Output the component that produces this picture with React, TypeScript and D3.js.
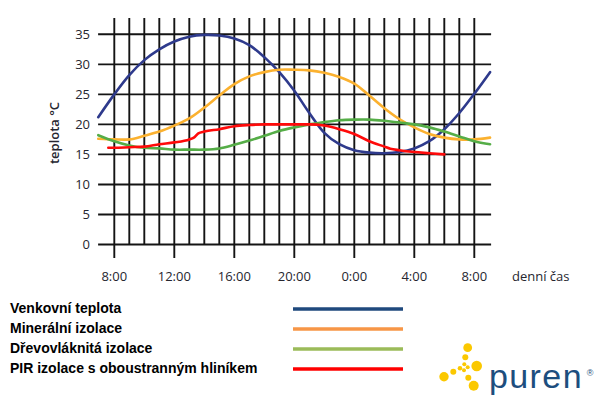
import React from 'react';
import * as d3 from 'd3';

// hours run from 7:00 to 9:00 next day (24 = 0:00, 28 = 4:00 ...)
const hours = [6.93, 8, 9, 10, 11, 12, 13, 14, 15, 16, 17, 18, 19, 20, 21, 22, 23, 24, 25, 26, 27, 28, 29, 30, 31, 32, 33.05];

const venkovni = [21.2, 25.0, 28.2, 30.7, 32.5, 33.8, 34.6, 34.9, 34.8, 34.3, 33.2, 31.2, 28.7, 25.6, 21.9, 18.6, 16.7, 15.7, 15.3, 15.2, 15.4, 16.0, 17.2, 19.2, 21.9, 25.1, 28.7];
const mineralni = [17.6, 17.5, 17.5, 18.1, 18.8, 19.8, 21.0, 22.8, 24.8, 26.7, 28.0, 28.7, 29.1, 29.1, 29.0, 28.6, 27.9, 26.8, 24.8, 22.7, 20.9, 19.5, 18.4, 17.8, 17.5, 17.5, 17.8];
const drevovlaknita = [18.2, 17.2, 16.5, 16.1, 16.0, 15.8, 15.8, 15.8, 16.0, 16.6, 17.3, 18.1, 18.9, 19.5, 20.0, 20.4, 20.7, 20.8, 20.8, 20.6, 20.3, 20.0, 19.5, 18.8, 18.0, 17.2, 16.7];

const pirHours = [7.6, 8, 9, 10, 11, 12, 13, 13.3, 13.6, 14, 15, 16, 17, 18, 19, 20, 21, 22, 23, 24, 25, 26, 26.4, 27, 28, 29, 30];
const pir = [16.1, 16.1, 16.2, 16.3, 16.7, 17.0, 17.5, 17.8, 18.5, 18.8, 19.2, 19.7, 19.9, 20.0, 20.0, 20.0, 20.0, 19.8, 19.2, 18.4, 17.2, 16.3, 15.95, 15.7, 15.4, 15.2, 15.0];

const yTicks = [0, 5, 10, 15, 20, 25, 30, 35];
const gridHours = d3.range(8, 33);
const labelHours = [8, 12, 16, 20, 24, 28, 32];
const labelTexts = ['8:00', '12:00', '16:00', '20:00', '0:00', '4:00', '8:00'];

const legendNames = ['Venkovní teplota', 'Minerální izolace', 'Dřevovláknitá izolace', 'PIR izolace s oboustranným hliníkem'];
const legendColors = ['#1f497d', '#f79646', '#9bbb59', '#ff0000'];

const lineColors = ['#2e3a8c', '#fbb12f', '#55ad47', '#ff0a0a'];

// logo dots [x, y, r]
const logoDots = [
  [467.7, 347.7, 4.4], [465.3, 357.3, 3], [476.7, 366, 5.3], [464.3, 364.3, 2],
  [467.7, 367.3, 2], [464, 370.3, 2], [460, 368.3, 2.3], [453.3, 371.7, 3],
  [444, 376.7, 4.7], [468.3, 377.7, 3], [473.7, 385.7, 5],
];

export default function App() {
  const width = 600;
  const height = 401;

  const x = d3.scaleLinear().domain([7, 33]).range([99.3, 489.3]);
  const y = d3.scaleLinear().domain([0, 35]).range([244.5, 34.3]);

  const smooth = d3.line<[number, number]>()
    .x(d => x(d[0]))
    .y(d => y(d[1]))
    .curve(d3.curveCatmullRom.alpha(0.5));

  const kinked = d3.line<[number, number]>()
    .x(d => x(d[0]))
    .y(d => y(d[1]))
    .curve(d3.curveMonotoneX);

  const series = [
    hours.map((h, i) => [h, venkovni[i]] as [number, number]),
    hours.map((h, i) => [h, mineralni[i]] as [number, number]),
    hours.map((h, i) => [h, drevovlaknita[i]] as [number, number]),
    pirHours.map((h, i) => [h, pir[i]] as [number, number]),
  ];

  const font = '"Open Sans", "Liberation Sans", sans-serif';
  const gridColor = '#141414';

  return (
    <div style={{ position: 'absolute', left: 0, top: 0 }}>
      <svg width={width} height={height} style={{ display: 'block', background: '#fff' }}>
        {/* grid */}
        {yTicks.map(t => (
          <line key={'h' + t} x1={x(6.92)} x2={x(33.12)} y1={y(t)} y2={y(t)} stroke={gridColor} strokeWidth={1.9} />
        ))}
        {gridHours.map(h => (
          <line key={'v' + h} x1={x(h)} x2={x(h)} y1={18}
            y2={labelHours.includes(h) ? 258 : y(0)} stroke={gridColor} strokeWidth={1.9} />
        ))}

        {/* series */}
        {series.map((s, i) => (
          <path key={i} d={(i === 3 ? kinked(s) : smooth(s)) || ''} fill="none" stroke={lineColors[i]} strokeWidth={2.6} strokeLinecap="round" />
        ))}

        {/* y labels */}
        {yTicks.map(t => (
          <text key={'yl' + t} x={90} y={y(t) + 4.6} textAnchor="end" fontFamily={font} fontSize={13} fill="#26262f">{t}</text>
        ))}
        <text transform={`translate(59,133) rotate(-90)`} textAnchor="middle" fontFamily={font} fontSize={13} fontWeight={600} fill="#26262f">teplota °C</text>

        {/* x labels */}
        {labelHours.map((h, i) => (
          <text key={'xl' + i} x={x(h)} y={281} textAnchor="middle" fontFamily={font} fontSize={13} fill="#26262f">{labelTexts[i]}</text>
        ))}
        <text x={512} y={281} fontFamily={font} fontSize={13} fill="#26262f">denní čas</text>

        {/* legend */}
        {legendNames.map((n, i) => (
          <g key={n}>
            <text x={10} y={313 + i * 20} fontFamily='"Liberation Sans", Arial, sans-serif' fontWeight="bold" fontSize={14} fill="#000">{n}</text>
            <line x1={293} x2={403} y1={309 + i * 20} y2={309 + i * 20} stroke={legendColors[i]} strokeWidth={3.5} />
          </g>
        ))}

        {/* logo */}
        {logoDots.map((d, i) => (
          <circle key={'d' + i} cx={d[0]} cy={d[1]} r={d[2]} fill="#fbc800" />
        ))}
        <text x={489} y={388} fontFamily='"Liberation Sans", Arial, sans-serif' fontSize={34} letterSpacing={1.4} fill="#1d4e7e">puren</text>
        <text x={590} y={376} textAnchor="middle" fontFamily='"Liberation Sans", Arial, sans-serif' fontSize={9} fill="#1d4e7e">®</text>
      </svg>
    </div>
  );
}
